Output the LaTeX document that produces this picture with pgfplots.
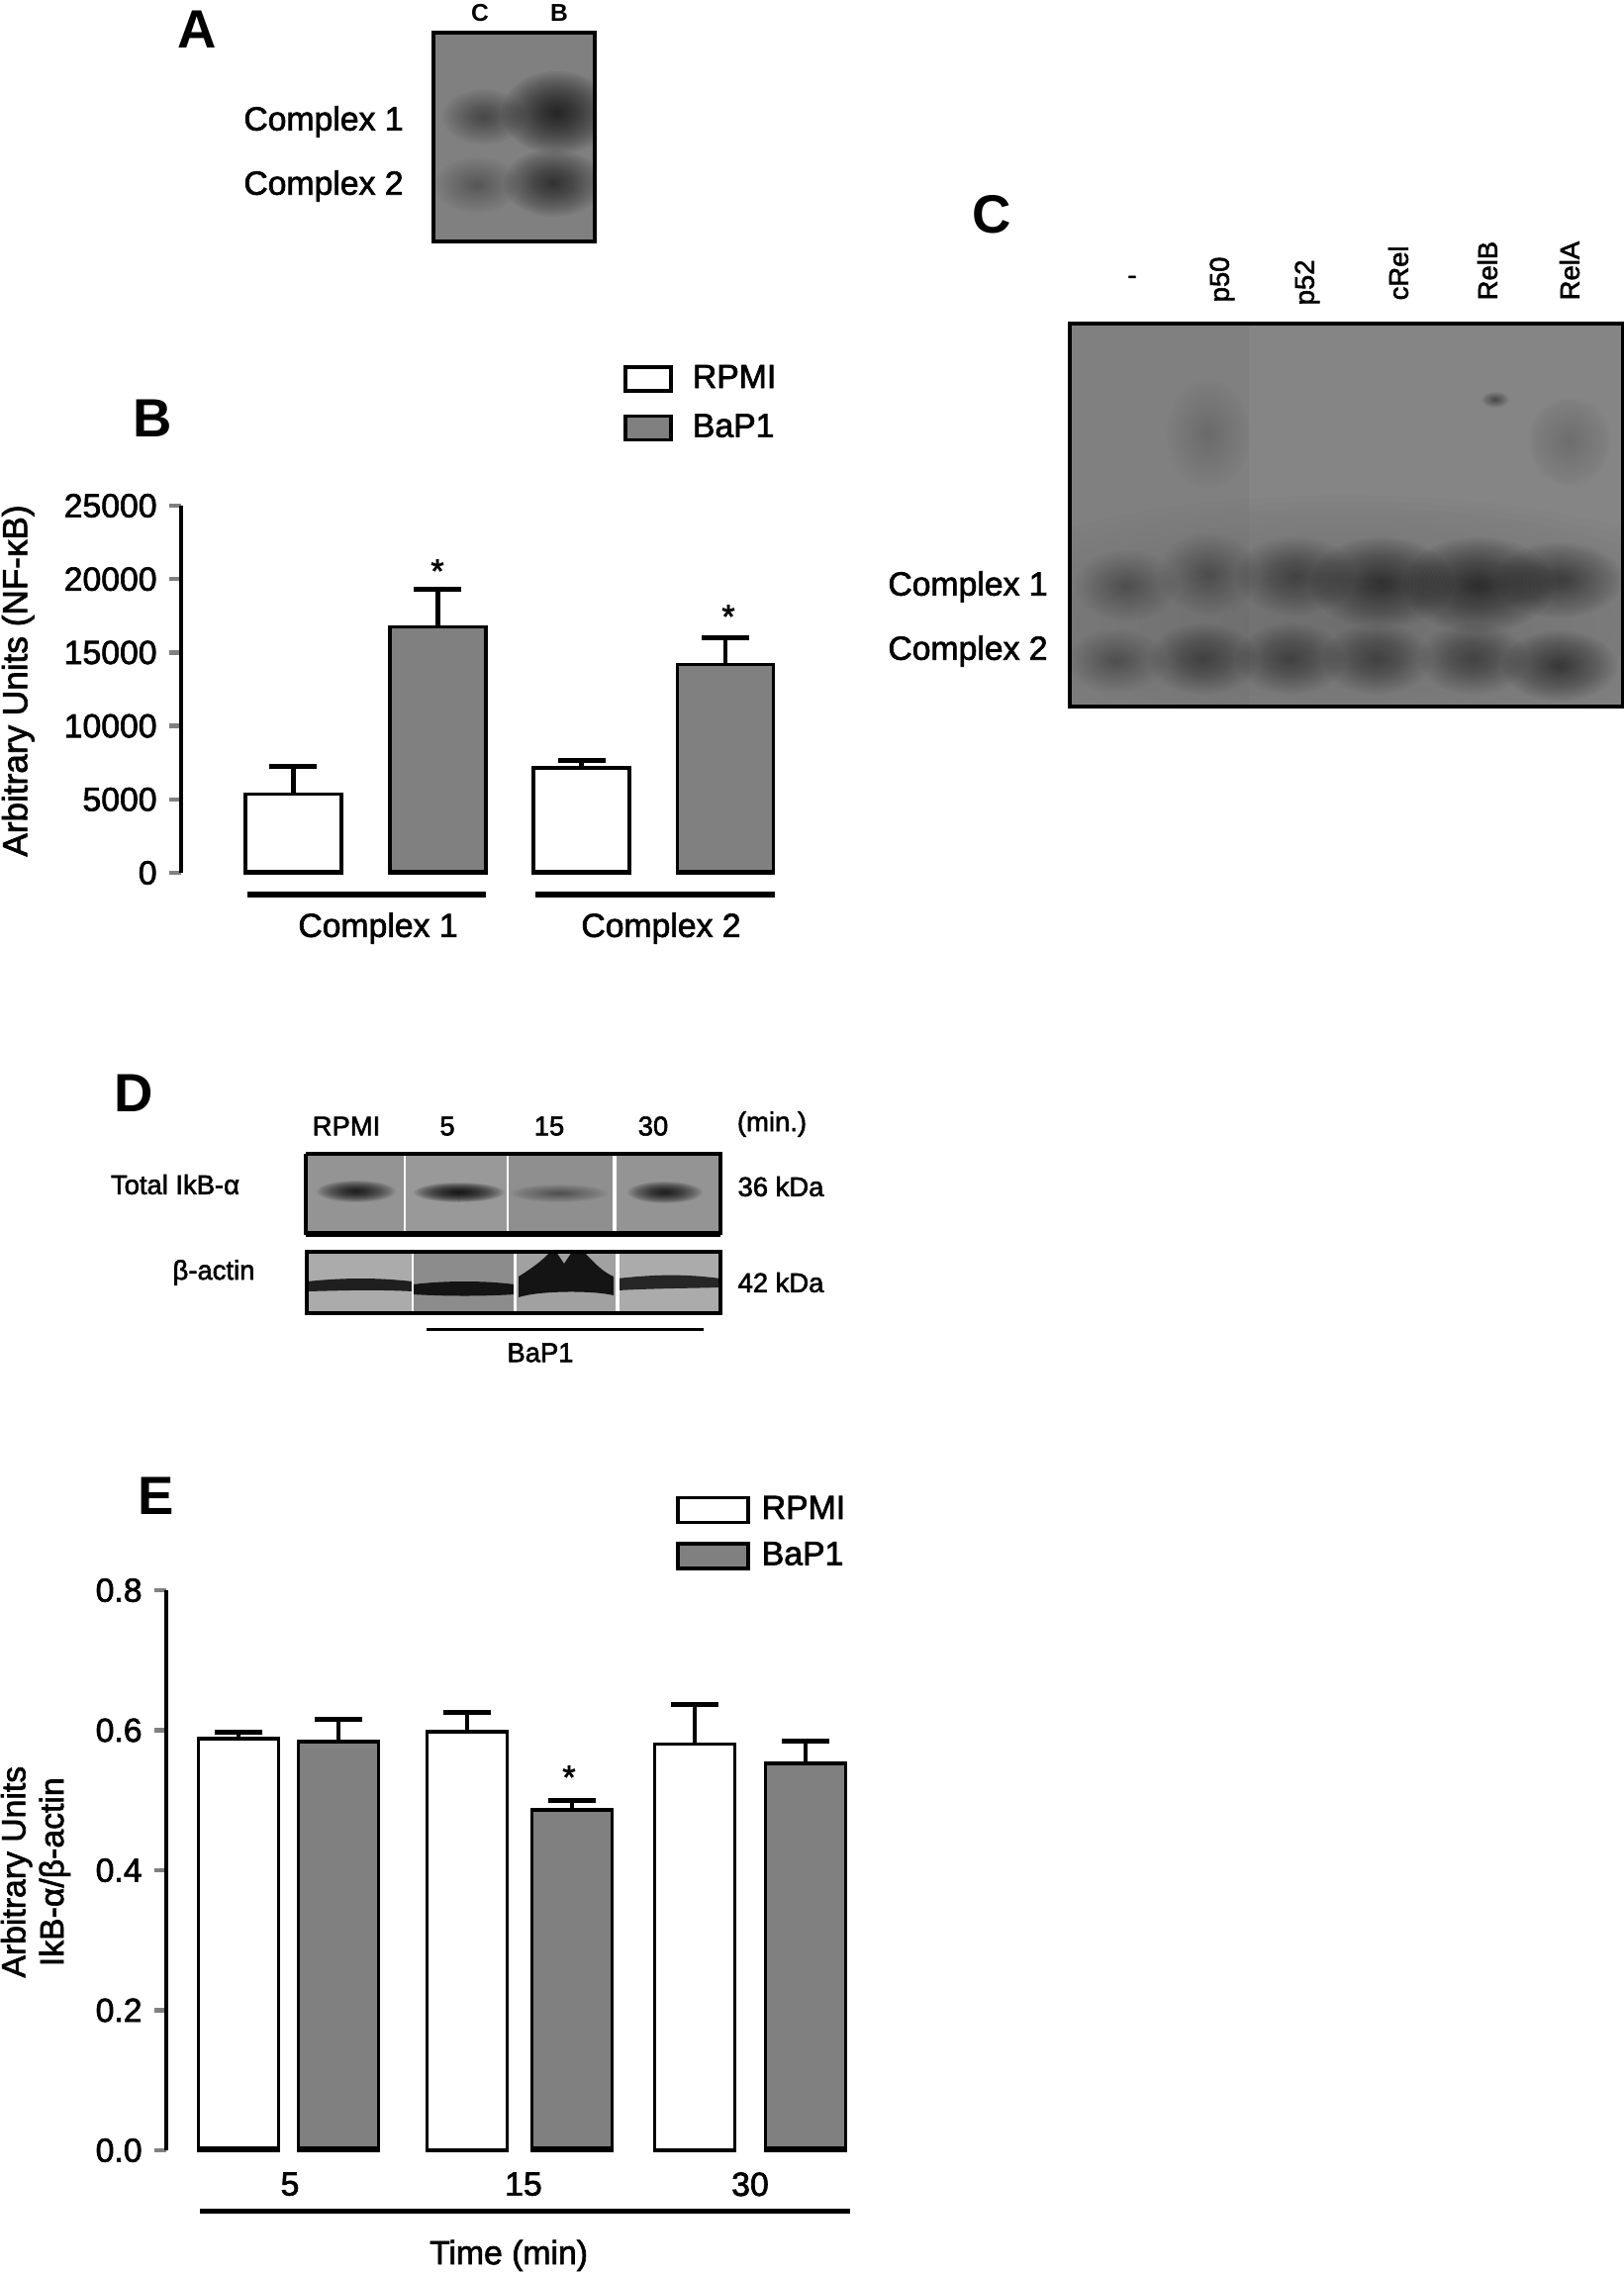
\documentclass[border=0pt]{standalone}
\usepackage{fontspec}
\setmainfont{Liberation Sans}
\newfontfamily\smear{Liberation Sans}[RawFeature={embolden=2}]
\usepackage{pgfplots}
\usepackage{pgfplotstable}
\pgfplotsset{compat=1.18}

\definecolor{barfill}{HTML}{808080}

% panel B
\pgfplotstableread{
x y e
296.5 5360 1890
587.5 7140 500
}\bRPMI
\pgfplotstableread{
x y e
442.5 16760 2530
733 14200 1800
}\bBaP
% panel E
\pgfplotstableread{
x y e
241 0.588 0.009
472 0.598 0.028
702 0.580 0.057
}\eRPMI
\pgfplotstableread{
x y e
342 0.584 0.031
578 0.486 0.014
814 0.553 0.031
}\eBaP

\newcommand{\bigfont}{\fontsize{9.6}{11}\selectfont\smear}
\newcommand{\midfont}{\fontsize{7.8}{9}\selectfont\smear}
\newcommand{\letterfont}{\fontsize{15.5}{17}\selectfont\bfseries}

% soft blot spot: x y rx ry alpha
\newcommand{\blob}[5]{%
  \foreach \s in {1,.95,.9,.85,.8,.75,.7,.65,.6,.55,.5,.45,.4,.35,.3,.25,.2,.15,.1,.05}{%
    \fill[black,opacity=#5/2] (#1,#2) ellipse [x radius={\s*#3}, y radius={\s*#4}];}}

\pgfplotsset{
  panel/.style={
    scale only axis, clip=false,
    axis x line=bottom, axis y line=left,
    axis line style={-,line width=.45mm},
    x axis line style={draw=none},
    xtick style={draw=none}, ytick pos=left,
    ytick style={line width=.45mm},
    tick align=outside, major tick length=1.2mm,
    tick label style={font=\bigfont},
    /pgf/number format/assume math mode=true,
    ybar, bar shift=0pt,
    legend cell align=left,
    legend style={draw=none,fill=none,inner sep=0pt,font=\bigfont},
  },
  barA/.style={draw=black,fill=white,line width=.35mm,
    error bars/.cd,y dir=plus,y explicit,
    error bar style={line width=.42mm,black},
    error mark options={rotate=90,mark size=2.4mm,line width=.5mm,black}},
  barB/.style={draw=black,fill=barfill,line width=.35mm,
    error bars/.cd,y dir=plus,y explicit,
    error bar style={line width=.42mm,black},
    error mark options={rotate=90,mark size=2.4mm,line width=.5mm,black}},
}

\begin{document}
\begin{tikzpicture}[x=0.1mm,y=0.1mm]
\path[use as bounding box] (0,0) rectangle (1641,2298);

% ---- B
\begin{axis}[panel,
    at={(18.3mm,141.6mm)},anchor=south west,
    width=61.7mm,height=37.1mm,
    xmin=183,xmax=800,ymin=0,ymax=25000,
    ytick={0,5000,10000,15000,20000,25000},
    scaled y ticks=false,
    yticklabel style={/pgf/number format/set thousands separator={}},
    xtick={382,668},xticklabels={Complex 1,Complex 2},
    xticklabel style={yshift=-1.6mm},
    bar width=9.7mm,
    every axis y label/.style={at={(axis description cs:-0.267,0.523)},rotate=90,anchor=center,font=\fontsize{10}{11}\selectfont\smear},
    ylabel={Arbitrary Units (NF-κB)},
    legend image code/.code={\draw[#1] (0mm,-1.2mm) rectangle (4.6mm,1.2mm);\path (5.9mm,0mm);},
    legend style={at={(axis description cs:0.724,1.404)},anchor=north west,row sep=.7mm},
]
\addplot[barA] table[x=x,y=y,y error=e] {\bRPMI};
\addplot[barB] table[x=x,y=y,y error=e] {\bBaP};
\legend{RPMI,BaP1}
\end{axis}

% ---- E
\begin{axis}[panel,
    at={(16.8mm,12.5mm)},anchor=south west,
    width=70.2mm,height=56.6mm,
    xmin=168,xmax=870,ymin=0,ymax=0.8,
    ytick={0,0.2,0.4,0.6,0.8},
    yticklabel style={/pgf/number format/fixed,/pgf/number format/fixed zerofill,/pgf/number format/precision=1},
    xtick={293,529,758},xticklabels={5,15,30},
    xticklabel style={yshift=.2mm},
    bar width=8.1mm,
    every axis y label/.style={at={(axis description cs:-0.188,0.497)},rotate=90,anchor=center,font=\bigfont,align=center},
    ylabel={Arbitrary Units\\IkB-α/β-actin},
    every axis x label/.style={at={(axis description cs:0.493,-0.188)},anchor=center,font=\bigfont},
    xlabel={Time (min)},
    legend image code/.code={\draw[#1] (0mm,-1.25mm) rectangle (7.1mm,1.25mm);\path (7.6mm,0mm);},
    legend style={at={(axis description cs:0.733,1.182)},anchor=north west,row sep=.4mm},
]
\addplot[barA] table[x=x,y=y,y error=e] {\eRPMI};
\addplot[barB] table[x=x,y=y,y error=e] {\eBaP};
\legend{RPMI,BaP1}
\end{axis}

\begin{scope}[yshift=229.8mm,y=-0.1mm]
% annotations of B and E
\foreach \xa/\xb in {250/491,541/783} \draw[line width=.55mm] (\xa,904)--(\xb,904);
\foreach \xa/\xb in {248/345,393/492,539/636,684/782} \draw[line width=.5mm] (\xa,881)--(\xb,881);
\node[font=\bigfont] at (442,577) {*};
\node[font=\bigfont] at (736,623) {*};
\node[font=\bigfont] at (575,1796) {*};
\draw[line width=.5mm] (202,2234)--(859,2234);
\foreach \xa/\xb in {201/281,301/383,538/618,774/855} \draw[line width=.5mm] (\xa,2171)--(\xb,2171);

% panel letters
\node[font=\letterfont] at (199,30) {A};
\node[font=\letterfont] at (154,423) {B};
\node[font=\letterfont] at (1002,217) {C};
\node[font=\letterfont] at (135,1105) {D};
\node[font=\letterfont] at (158,1512) {E};

% ---- A
\begin{scope}
\clip (438,33) rectangle (601,244);
\fill[black!50] (438,33) rectangle (601,244);
\blob{489}{118}{42}{28}{.045}
\blob{563}{114}{56}{42}{.10}
\blob{482}{187}{42}{28}{.03}
\blob{559}{185}{50}{34}{.08}
\end{scope}
\draw[line width=.4mm] (438,33) rectangle (601,244);
\node[font=\bigfont] at (327,123) {Complex 1};
\node[font=\bigfont] at (327,188) {Complex 2};
\node[font=\fontsize{7}{8}\selectfont\bfseries] at (485,13) {C};
\node[font=\fontsize{7}{8}\selectfont\bfseries] at (565,13) {B};

% ---- C
\begin{scope}
\clip (1081,327) rectangle (1640,714);
\fill[black!48] (1081,327) rectangle (1640,714);
\fill[black!50] (1081,327) rectangle (1262,714);
\blob{1360}{630}{420}{130}{.012}
\blob{1138}{592}{52}{36}{.035}
\blob{1221}{580}{50}{42}{.028}
\blob{1309}{582}{60}{40}{.05}
\blob{1396}{589}{72}{46}{.07}
\blob{1494}{591}{76}{48}{.075}
\blob{1576}{586}{64}{38}{.055}
\blob{1128}{668}{50}{32}{.03}
\blob{1216}{666}{55}{36}{.05}
\blob{1304}{666}{55}{36}{.05}
\blob{1391}{666}{55}{36}{.05}
\blob{1489}{666}{55}{36}{.05}
\blob{1576}{673}{58}{36}{.06}
\blob{1221}{439}{42}{55}{.012}
\blob{1586}{446}{42}{45}{.014}
\blob{1511}{404}{14}{8}{.05}
\end{scope}
\draw[line width=.4mm] (1081,327) rectangle (1640,714);
\node[font=\bigfont] at (978,593) {Complex 1};
\node[font=\bigfont] at (978,658) {Complex 2};
\node[font=\midfont] at (1144,283) {-};
\foreach \x/\yy/\t in {1235/306/p50,1321/309/p52,1413/304/cRel,1503/304/RelB,1586/304/RelA}
  \node[font=\midfont,rotate=90,anchor=west,inner sep=0pt] at (\x,\yy) {\t};

% ---- D upper
\begin{scope}
\clip (309,1166) rectangle (728,1248);
\fill[black!42] (309,1166) rectangle (409,1248);
\fill[black!40] (409,1166) rectangle (513,1248);
\fill[black!44] (513,1166) rectangle (621,1248);
\fill[black!42] (621,1166) rectangle (728,1248);
\blob{360}{1204}{40}{11}{.13}
\blob{464}{1205}{46}{10}{.16}
\blob{565}{1206}{50}{9}{.05}
\blob{672}{1205}{38}{11}{.13}
\end{scope}
\foreach \x/\w in {409/.25,513/.25,621/.4} \draw[white,line width=\w mm] (\x,1166)--(\x,1248);
\draw[line width=.35mm] (309,1166)--(728,1166)--(728,1248);
\draw[line width=.35mm] (309,1248)--(309,1166);
\draw[line width=.6mm] (309,1247)--(728,1247);

% ---- D lower
\begin{scope}
\clip (310,1265) rectangle (728,1327);
\fill[black!33] (310,1265) rectangle (417,1327);
\fill[black!45] (417,1265) rectangle (520,1327);
\fill[black!37] (520,1265) rectangle (624,1327);
\fill[black!33] (624,1265) rectangle (728,1327);
\fill[black!88] (310,1295) .. controls (350,1291) and (380,1291) .. (417,1295) -- (417,1305) .. controls (380,1303) and (350,1304) .. (310,1305) -- cycle;
\fill[black!92] (417,1298) .. controls (450,1294) and (490,1294) .. (520,1298) -- (520,1308) .. controls (490,1310) and (450,1310) .. (417,1308) -- cycle;
\fill[black!92] (524,1290) .. controls (540,1280) and (550,1272) .. (556,1265) -- (562,1265) -- (570,1277) -- (578,1265) -- (590,1265) .. controls (600,1276) and (610,1286) .. (620,1290) -- (620,1309) .. controls (600,1304) and (545,1304) .. (524,1311) -- cycle;
\fill[black!85] (624,1292) .. controls (660,1288) and (690,1287) .. (728,1292) -- (728,1301) .. controls (690,1302) and (660,1302) .. (624,1304) -- cycle;
\end{scope}
\foreach \x/\w in {417/.25,520/.3,624/.35} \draw[white,line width=\w mm] (\x,1265)--(\x,1327);
\draw[line width=.4mm] (310,1265) rectangle (728,1327);

\node[font=\midfont] at (350,1138) {RPMI};
\node[font=\midfont] at (452,1138) {5};
\node[font=\midfont] at (555,1138) {15};
\node[font=\midfont] at (660,1138) {30};
\node[font=\midfont] at (780,1136) {(min.)};
\node[font=\midfont] at (177,1197) {Total IkB-α};
\node[font=\midfont] at (216,1286) {β-actin};
\node[font=\midfont] at (789,1199) {36 kDa};
\node[font=\midfont] at (789,1296) {42 kDa};
\draw[line width=.3mm] (431,1343)--(711,1343);
\node[font=\midfont] at (546,1367) {BaP1};
\end{scope}
\end{tikzpicture}
\end{document}
